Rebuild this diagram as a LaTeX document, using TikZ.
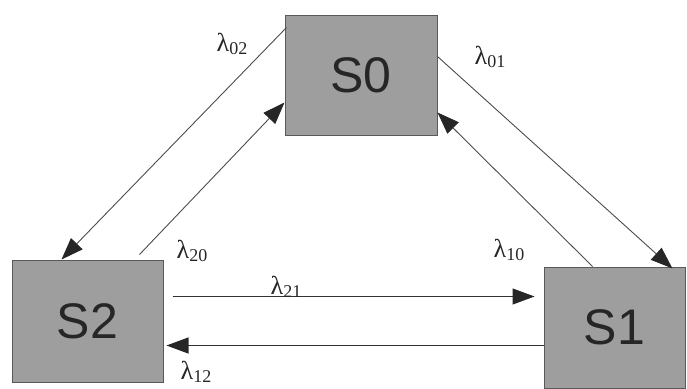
\documentclass[tikz,border=0pt]{standalone}
\usepackage{fontspec}
\setsansfont{Liberation Sans}
\newfontfamily\lamfont{Liberation Serif}
\usetikzlibrary{calc,arrows.meta}
\definecolor{boxfill}{rgb}{0.62,0.62,0.62}
\definecolor{boxline}{rgb}{0.35,0.35,0.35}
\definecolor{edge}{rgb}{0.3,0.3,0.3}
\newcommand{\lam}[1]{λ\raisebox{-0.3ex}{\fontsize{18}{18}\selectfont #1}}
\tikzset{
  state/.style={draw=boxline, line width=1pt, fill=boxfill, inner sep=0pt,
    font=\sffamily\fontsize{50}{50}\selectfont, text=black!85},
  trans/.style={draw=edge, line width=0.9pt, -{Triangle[length=22pt,width=16pt,color=black!85,fill=black!85]}},
  htrans/.style={trans, draw=black!80, line width=1.2pt},
  rate/.style={font=\lamfont\fontsize{26}{26}\selectfont, text=black!85, inner sep=0pt}
}
\begin{document}
\begin{tikzpicture}[x=1pt,y=-1pt]
\useasboundingbox (0,0) rectangle (687,388);
\node[state, minimum width=152pt, minimum height=120pt] (S0) at (361,75) {S0};
\node[state, minimum width=151pt, minimum height=122pt] (S2) at (87.5,321) {S2};
\node[state, minimum width=141pt, minimum height=121pt] (S1) at (614.5,327.5) {S1};

\draw[trans] ($(S0.north west)+(2,13)$) -- ($(S2.north west)+(50,0)$);
\draw[trans] ($(S2.north west)+(128,-5)$) -- ($(S0.north west)+(0,88)$);
\draw[trans] ($(S0.north east)+(0,42)$) -- ($(S1.north east)+(-13,2)$);
\draw[trans] ($(S1.north west)+(49,0)$) -- ($(S0.north east)+(0,98)$);
\draw[htrans] ($(S2.north east)+(9,37)$) -- ($(S1.north west)+(-9,30)$);
\draw[htrans] ($(S1.north west)+(0,79)$) -- ($(S2.north east)+(3,86)$);

\node[rate] (l02) at (232,44) {\lam{02}};
\node[rate] (l01) at (490,57) {\lam{01}};
\node[rate] (l20) at (192,251) {\lam{20}};
\node[rate] (l10) at (509,250) {\lam{10}};
\node[rate] (l21) at (286,287) {\lam{21}};
\node[rate] (l12) at (196,372) {\lam{12}};
\end{tikzpicture}
\end{document}
